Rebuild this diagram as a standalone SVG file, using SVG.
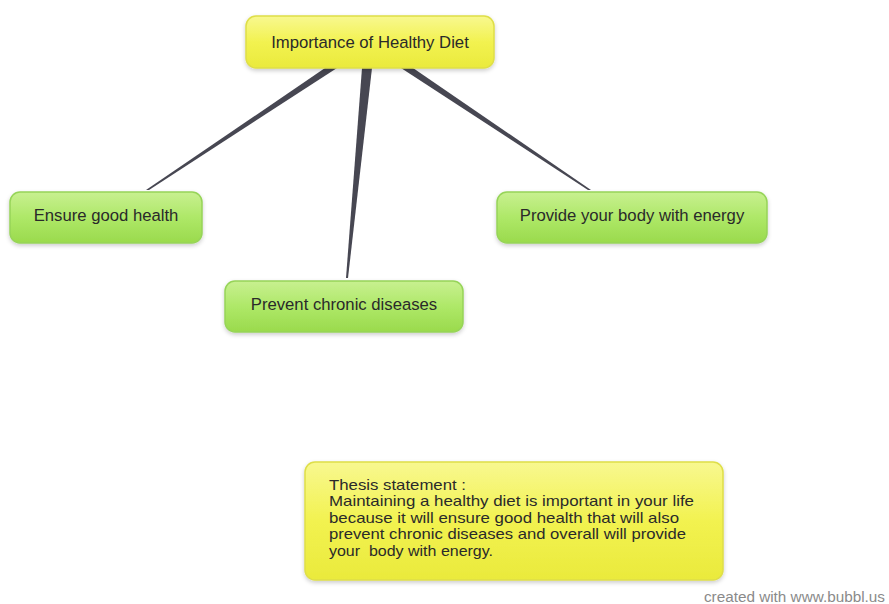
<svg xmlns="http://www.w3.org/2000/svg" width="889" height="604" viewBox="0 0 889 604">
<defs>
<linearGradient id="gy" x1="0" y1="0" x2="0" y2="1">
<stop offset="0" stop-color="#f8f890"/>
<stop offset="0.5" stop-color="#f2f250"/>
<stop offset="1" stop-color="#eaea3c"/>
</linearGradient>
<linearGradient id="gg" x1="0" y1="0" x2="0" y2="1">
<stop offset="0" stop-color="#c8f090"/>
<stop offset="0.5" stop-color="#aee868"/>
<stop offset="1" stop-color="#9ada4c"/>
</linearGradient>
<filter id="sh" x="-10%" y="-10%" width="120%" height="130%">
<feDropShadow dx="0" dy="2" stdDeviation="2" flood-color="#000" flood-opacity="0.2"/>
</filter>
<style>
.y{fill:url(#gy);stroke:#dede48;stroke-width:1.5;filter:url(#sh)}
.g{fill:url(#gg);stroke:#96d458;stroke-width:1.5;filter:url(#sh)}
text{font-family:"Liberation Sans",Arial,sans-serif;fill:#2a2a2a}
.c{text-anchor:middle;font-size:16.7px}
.t{font-size:15px}
.f{font-size:15.3px;fill:#8a8a8a}
.k{fill:#474752}
</style>
</defs>
<rect width="889" height="604" fill="#ffffff"/>
<g id="connectors">
<polygon class="k" points="325,68 337,68 149,190 146,190"/>
<polygon class="k" points="362,68 372,68 348,278 346,278"/>
<polygon class="k" points="401,68 413,68 591,190 588,190"/>
</g>
<g id="n-root">
<rect class="y" x="246" y="16" width="248" height="52" rx="10"/>
<text class="c" x="370" y="48">Importance of Healthy Diet</text>
</g>
<g id="n-health">
<rect class="g" x="10" y="192" width="192" height="51" rx="10"/>
<text class="c" x="106" y="221">Ensure good health</text>
</g>
<g id="n-prevent">
<rect class="g" x="225" y="281" width="238" height="51" rx="10"/>
<text class="c" x="344" y="310">Prevent chronic diseases</text>
</g>
<g id="n-energy">
<rect class="g" x="497" y="192" width="270" height="51" rx="10"/>
<text class="c" x="632" y="221">Provide your body with energy</text>
</g>
<g id="n-thesis">
<rect class="y" x="305" y="462" width="418" height="118" rx="10"/>
<text class="t" x="329" y="489.5" textLength="137" lengthAdjust="spacingAndGlyphs">Thesis statement :</text>
<text class="t" x="329" y="506" textLength="365" lengthAdjust="spacingAndGlyphs">Maintaining a healthy diet is important in your life</text>
<text class="t" x="329" y="522.5" textLength="350" lengthAdjust="spacingAndGlyphs">because it will ensure good health that will also</text>
<text class="t" x="329" y="539" textLength="357" lengthAdjust="spacingAndGlyphs">prevent chronic diseases and overall will provide</text>
<text class="t" x="329" y="555.5" textLength="164" lengthAdjust="spacingAndGlyphs" xml:space="preserve">your  body with energy.</text>
</g>
<text class="f" x="885" y="602" text-anchor="end">created with www.bubbl.us</text>
</svg>
